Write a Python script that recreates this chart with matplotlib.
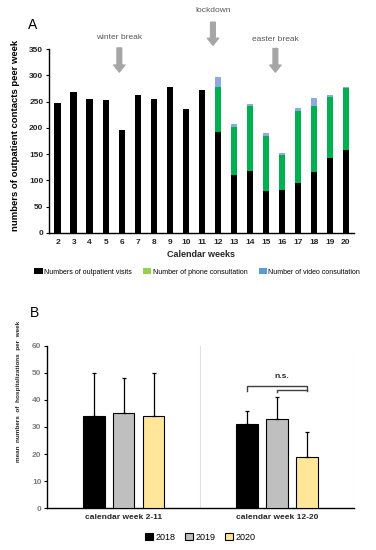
import numpy as np
import matplotlib
matplotlib.use('Agg')
import matplotlib.pyplot as plt
from matplotlib.patches import Patch

# panel A: weekly outpatient contacts
weeks = list(range(2, 21))
visits = [248, 268, 255, 253, 196, 263, 255, 277, 236, 272, 193, 111, 117, 80, 82, 96, 116, 143, 158]
phone = [0, 0, 0, 0, 0, 0, 0, 0, 0, 0, 84, 91, 125, 105, 66, 136, 125, 116, 117]
video = [0, 0, 0, 0, 0, 0, 0, 0, 0, 0, 19, 5, 3, 6, 5, 5, 15, 4, 3]

# panel B: mean hospitalizations
periods = ['calendar week 2-11', 'calendar week 12-20']
years = ['2018', '2019', '2020']
hosp_mean = {'2018': [34, 31], '2019': [35, 33], '2020': [34, 19]}
hosp_sd = {'2018': [16, 5], '2019': [13, 8], '2020': [16, 9]}

c_black = '#000000'
c_green = '#00b050'
c_blue = '#8eaadb'
year_cols = {'2018': '#000000', '2019': '#bfbfbf', '2020': '#ffe699'}

plt.rcParams['font.family'] = ['Liberation Sans', 'DejaVu Sans']

fig = plt.figure(figsize=(3.76, 5.5), dpi=100)

# ---------- A ----------
ax = fig.add_axes([0.130, 0.5764, 0.811, 0.3345])
x = np.array(weeks)
vis = np.array(visits)
ph = np.array(phone)
vd = np.array(video)
ax.bar(x, vis, 0.4, color=c_black)
ax.bar(x, ph, 0.4, bottom=vis, color=c_green)
ax.bar(x, vd, 0.4, bottom=vis + ph, color=c_blue)
ax.set_xlim(1.45, 20.5)
ax.set_ylim(0, 350)
ax.set_yticks(range(0, 351, 50))
ax.set_xticks(weeks)
ax.tick_params(axis='x', length=0, pad=4, labelsize=6)
ax.tick_params(axis='y', length=2, width=0.8, pad=2, labelsize=6)
for lab in ax.get_xticklabels() + ax.get_yticklabels():
    lab.set_fontweight('bold')
    lab.set_color('#262626')
for s in ['top', 'right']:
    ax.spines[s].set_visible(False)
for s in ['left', 'bottom']:
    ax.spines[s].set_linewidth(1.0)
ax.set_xlabel('Calendar weeks', fontsize=6.5, fontweight='bold', labelpad=3, color='#262626')
ax.set_ylabel('numbers of outpatient contacts peer week', fontsize=6.8, fontweight='bold')
ax.yaxis.set_label_coords(-0.095, 0.53)

arrow_props = dict(arrowstyle='simple,head_length=0.6,head_width=0.95,tail_width=0.4',
                   color='#a6a6a6', mutation_scale=8.5, shrinkA=0, shrinkB=0)
events = [('winter break', 5.85, 371, 352, 306),
          ('lockdown', 11.7, 424, 401, 357),
          ('easter break', 15.6, 369, 351, 306)]
for name, ex, ty, y0, y1 in events:
    ax.text(ex, ty, name, ha='center', va='center', fontsize=6, color='#595959')
    ax.annotate('', xy=(ex, y1), xytext=(ex, y0), arrowprops=arrow_props,
                annotation_clip=False)

fig.text(0.088, 0.9545, 'A', fontsize=10, ha='center', va='center')

handles = [Patch(facecolor='#000000'), Patch(facecolor='#92d050'), Patch(facecolor='#5b9bd5')]
fig.legend(handles, ['Numbers of outpatient visits', 'Number of phone consultation',
                     'Number of video consultation'],
           loc='center', bbox_to_anchor=(0.525, 0.5055), ncol=3, frameon=False,
           fontsize=5, handlelength=1.2, handleheight=0.8, handletextpad=0.2,
           columnspacing=1.6)

# ---------- B ----------
bx = fig.add_axes([0.125, 0.0758, 0.816, 0.2957])
pos = np.arange(len(periods))
w = 0.14
offs = [-0.195, 0.0, 0.195]
for yr, off in zip(years, offs):
    m = np.array(hosp_mean[yr])
    sd = np.array(hosp_sd[yr])
    bx.bar(pos + off, m, w, color=year_cols[yr], edgecolor='black', linewidth=0.8,
           yerr=[np.zeros_like(sd), sd], capsize=1.5,
           error_kw=dict(elinewidth=0.9, capthick=0.9), label=yr, zorder=3)
bx.set_xlim(-0.5, 1.5)
bx.set_ylim(0, 60)
bx.set_yticks(range(0, 61, 10))
bx.set_xticks(pos)
bx.set_xticklabels(periods)
for v in [0.5, 1.5]:
    bx.axvline(v, color='#e0e0e0', linewidth=0.8, zorder=0)
bx.tick_params(axis='x', length=0, pad=4, labelsize=6)
bx.tick_params(axis='y', length=2, width=0.8, pad=2, labelsize=6, colors='#7f7f7f')
bx.tick_params(axis='y', color='black')
for lab in bx.get_xticklabels():
    lab.set_fontweight('bold')
    lab.set_color('#262626')
for lab in bx.get_yticklabels():
    lab.set_fontweight('bold')
for s in ['top', 'right']:
    bx.spines[s].set_visible(False)
for s in ['left', 'bottom']:
    bx.spines[s].set_linewidth(1.0)
bx.set_ylabel('mean  numbers  of  hospitalizations  per  week', fontsize=4.6,
              fontweight='bold', color='#262626')
bx.yaxis.set_label_coords(-0.085, 0.72)

# n.s. bracket
x18, x19, x20 = 1 + offs[0], 1 + offs[1], 1 + offs[2]
bx.plot([x18, x18, x20, x20], [43.3, 45.2, 45.2, 43.3], color='#404040', lw=1.0)
bx.plot([x19, x19, x20], [42.9, 43.8, 43.8], color='#404040', lw=1.0)
bx.text(1.03, 48.8, 'n.s.', ha='center', va='center', fontsize=6, fontweight='bold',
        color='#262626')

fig.text(0.093, 0.431, 'B', fontsize=10, ha='center', va='center')

bx.legend(loc='center', bbox_to_anchor=(0.5, -0.177), ncol=3, frameon=False,
          fontsize=6.5, handlelength=0.9, handleheight=0.9, handletextpad=0.3,
          columnspacing=1.0)

fig.savefig('out.png', dpi=100)
